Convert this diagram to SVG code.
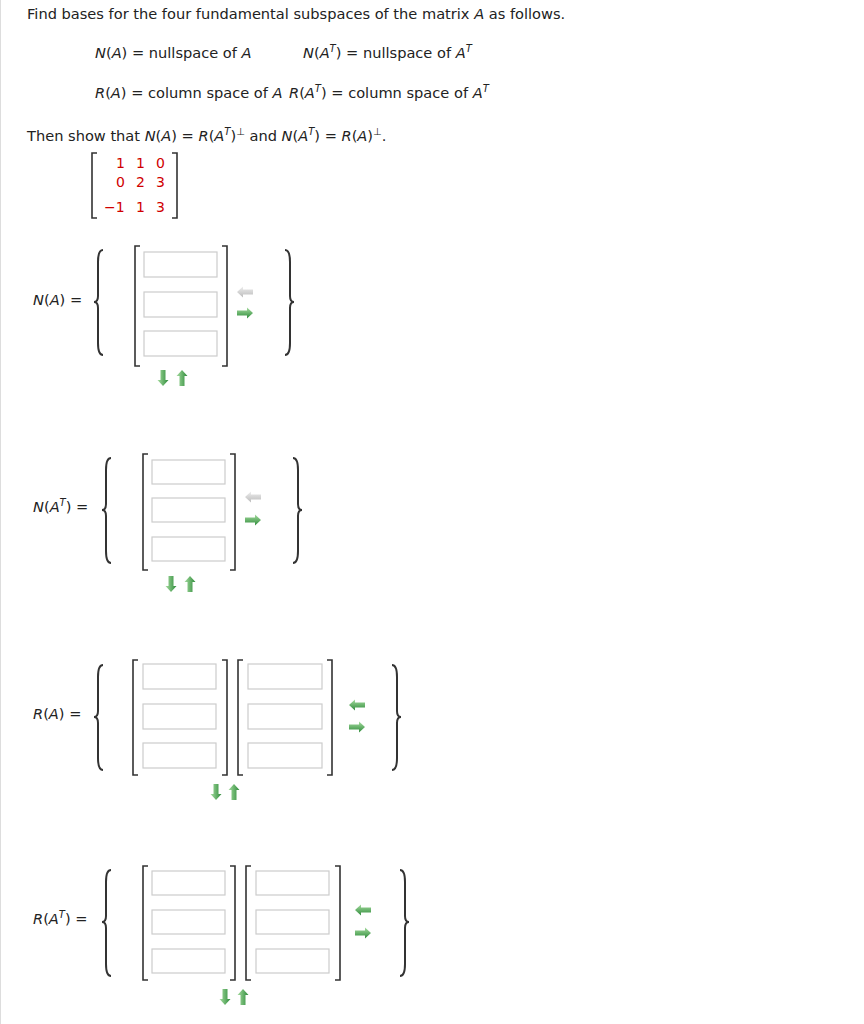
<svg xmlns="http://www.w3.org/2000/svg" width="864" height="1024" viewBox="0 0 864 1024">
<style>
text{font-family:Verdana,"DejaVu Sans",sans-serif;font-size:14.6px;fill:#222}
.i{font-style:italic}
.r{fill:#d00000;font-family:"DejaVu Sans",sans-serif;font-size:14px}
.box{fill:#fff;stroke:#ccc;stroke-width:1.2}
.br{fill:none;stroke:#333;stroke-width:1.6}
.bc{fill:none;stroke:#333;stroke-width:2}
</style>
<defs>
<linearGradient id="gh" x1="0" y1="0" x2="0" y2="1"><stop offset="0" stop-color="#a6dca0"/><stop offset="1" stop-color="#2e8b3a"/></linearGradient>
<linearGradient id="gv" x1="0" y1="0" x2="1" y2="0"><stop offset="0" stop-color="#a6dca0"/><stop offset="1" stop-color="#2e8b3a"/></linearGradient>
<linearGradient id="gg" x1="0" y1="0" x2="0" y2="1"><stop offset="0" stop-color="#eee"/><stop offset="1" stop-color="#bbb"/></linearGradient>
<path id="ar" d="M-8,-2.5 H2 V-5.5 L8,0 L2,5.5 V2.5 H-8 Z"/>
<path id="al" d="M8,-2.5 H-2 V-5.5 L-8,0 L-2,5.5 V2.5 H8 Z"/>
<path id="ad" d="M-2.5,-8 V2 H-5.5 L0,8 L5.5,2 H2.5 V-8 Z"/>
<path id="au" d="M-2.5,8 V-2 H-5.5 L0,-8 L5.5,-2 H2.5 V8 Z"/>
</defs>
<line x1="0.5" y1="0" x2="0.5" y2="1024" stroke="#ddd"/>
<g id="header">
<text x="27" y="19">Find bases for the four fundamental subspaces of the matrix <tspan class="i">A</tspan> as follows.</text>
<text x="95" y="58"><tspan class="i">N</tspan>(<tspan class="i">A</tspan>) = nullspace of <tspan class="i">A</tspan></text>
<text x="303" y="58"><tspan class="i">N</tspan>(<tspan class="i">A</tspan><tspan class="i" font-size="10" dy="-6">T</tspan><tspan dy="6">) = nullspace of </tspan><tspan class="i">A</tspan><tspan class="i" font-size="10" dy="-6">T</tspan></text>
<text x="95" y="98"><tspan class="i">R</tspan>(<tspan class="i">A</tspan>) = column space of <tspan class="i">A</tspan></text>
<text x="289" y="98"><tspan class="i">R</tspan>(<tspan class="i">A</tspan><tspan class="i" font-size="10" dy="-6">T</tspan><tspan dy="6">) = column space of </tspan><tspan class="i">A</tspan><tspan class="i" font-size="10" dy="-6">T</tspan></text>
<text x="27" y="141">Then show that <tspan class="i">N</tspan>(<tspan class="i">A</tspan>) = <tspan class="i">R</tspan>(<tspan class="i">A</tspan><tspan class="i" font-size="10" dy="-6">T</tspan><tspan dy="6">)</tspan><tspan font-size="10" dy="-6">⊥</tspan><tspan dy="6"> and </tspan><tspan class="i">N</tspan>(<tspan class="i">A</tspan><tspan class="i" font-size="10" dy="-6">T</tspan><tspan dy="6">) = </tspan><tspan class="i">R</tspan>(<tspan class="i">A</tspan>)<tspan font-size="10" dy="-6">⊥</tspan><tspan dy="6">.</tspan></text>
</g>
<g id="matrix">
<path class="br" d="M97,153 H92 V218 H97 M172,153 H177 V218 H172"/>
<text class="r" x="116" y="168">1</text><text class="r" x="136" y="168">1</text><text class="r" x="156" y="168">0</text>
<text class="r" x="116" y="187">0</text><text class="r" x="136" y="187">2</text><text class="r" x="156" y="187">3</text>
<text class="r" x="104" y="212">−1</text><text class="r" x="136" y="212">1</text><text class="r" x="156" y="212">3</text>
</g>
<g id="NA">
<text x="33" y="305"><tspan class="i">N</tspan>(<tspan class="i">A</tspan>) =</text>
<path class="bc" d="M103,250 Q98,250 98,262 V296 Q98,302 94,302 Q98,302 98,308 V343 Q98,355 103,355"/>
<path class="br" d="M140,246 H135 V366 H140 M222,246 H227 V366 H222"/>
<rect class="box" x="144" y="252" width="73" height="25"/><rect class="box" x="144" y="292" width="73" height="25"/><rect class="box" x="144" y="331" width="73" height="25"/>
<use href="#al" x="245" y="292" fill="url(#gg)"/><use href="#ar" x="245" y="313" fill="url(#gh)"/>
<path class="bc" d="M285,250 Q290,250 290,262 V296 Q290,302 294,302 Q290,302 290,308 V343 Q290,355 285,355"/>
<use href="#ad" x="163" y="378" fill="url(#gv)"/><use href="#au" x="182" y="378" fill="url(#gv)"/>
</g>
<g id="NAT">
<text x="33" y="512"><tspan class="i">N</tspan>(<tspan class="i">A</tspan><tspan class="i" font-size="10" dy="-6">T</tspan><tspan dy="6">) =</tspan></text>
<path class="bc" d="M111,458 Q106,458 106,470 V504 Q106,510 102,510 Q106,510 106,516 V551 Q106,563 111,563"/>
<path class="br" d="M148,454 H143 V570 H148 M230,454 H235 V570 H230"/>
<rect class="box" x="152" y="460" width="73" height="24"/><rect class="box" x="152" y="498" width="73" height="24"/><rect class="box" x="152" y="537" width="73" height="24"/>
<use href="#al" x="253" y="497" fill="url(#gg)"/><use href="#ar" x="253" y="520" fill="url(#gh)"/>
<path class="bc" d="M293,458 Q298,458 298,470 V504 Q298,510 302,510 Q298,510 298,516 V551 Q298,563 293,563"/>
<use href="#ad" x="171" y="584" fill="url(#gv)"/><use href="#au" x="190" y="584" fill="url(#gv)"/>
</g>
<g id="RA">
<text x="33" y="719"><tspan class="i">R</tspan>(<tspan class="i">A</tspan>) =</text>
<path class="bc" d="M103,665 Q98,665 98,677 V711 Q98,717 94,717 Q98,717 98,723 V758 Q98,770 103,770"/>
<path class="br" d="M138,660 H133 V775 H138 M222,660 H227 V775 H222"/>
<path class="br" d="M243,660 H238 V775 H243 M327,660 H332 V775 H327"/>
<rect class="box" x="143" y="664" width="73" height="25"/><rect class="box" x="143" y="704" width="73" height="25"/><rect class="box" x="143" y="743" width="73" height="25"/>
<rect class="box" x="248" y="664" width="74" height="25"/><rect class="box" x="248" y="704" width="74" height="25"/><rect class="box" x="248" y="743" width="74" height="25"/>
<use href="#al" x="357" y="705" fill="url(#gh)"/><use href="#ar" x="357" y="727" fill="url(#gh)"/>
<path class="bc" d="M392,665 Q397,665 397,677 V711 Q397,717 401,717 Q397,717 397,723 V758 Q397,770 392,770"/>
<use href="#ad" x="216" y="792" fill="url(#gv)"/><use href="#au" x="234" y="792" fill="url(#gv)"/>
</g>
<g id="RAT">
<text x="33" y="924"><tspan class="i">R</tspan>(<tspan class="i">A</tspan><tspan class="i" font-size="10" dy="-6">T</tspan><tspan dy="6">) =</tspan></text>
<path class="bc" d="M111,870 Q106,870 106,882 V916 Q106,922 102,922 Q106,922 106,928 V964 Q106,976 111,976"/>
<path class="br" d="M148,866 H143 V980 H148 M230,866 H235 V980 H230"/>
<path class="br" d="M251,866 H246 V980 H251 M335,866 H340 V980 H335"/>
<rect class="box" x="152" y="871" width="73" height="24"/><rect class="box" x="152" y="910" width="73" height="24"/><rect class="box" x="152" y="949" width="73" height="24"/>
<rect class="box" x="256" y="871" width="73" height="24"/><rect class="box" x="256" y="910" width="73" height="24"/><rect class="box" x="256" y="949" width="73" height="24"/>
<use href="#al" x="363" y="910" fill="url(#gh)"/><use href="#ar" x="363" y="933" fill="url(#gh)"/>
<path class="bc" d="M400,870 Q405,870 405,882 V916 Q405,922 409,922 Q405,922 405,928 V964 Q405,976 400,976"/>
<use href="#ad" x="225" y="997" fill="url(#gv)"/><use href="#au" x="243" y="997" fill="url(#gv)"/>
</g>
</svg>
